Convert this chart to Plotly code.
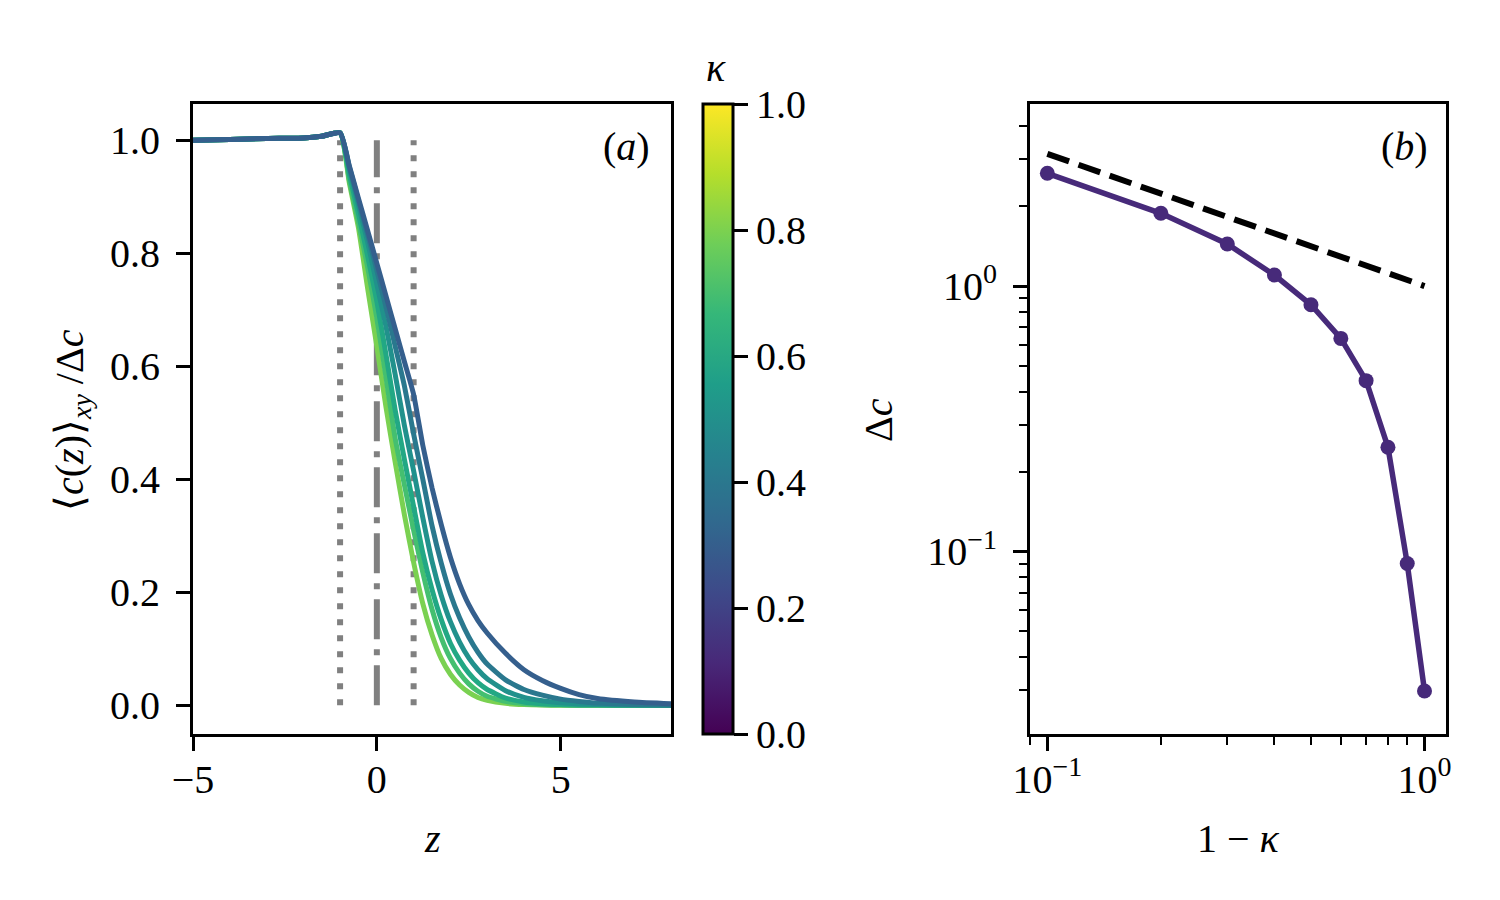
import plotly.graph_objects as go

# ---- panel (a): normalised concentration profiles ----
z = [-5, -4, -3, -2, -1.5, -1, -0.75, -0.5, -0.25, 0, 0.25, 0.5, 0.75, 1,
     1.25, 1.5, 1.75, 2, 2.25, 2.5, 2.75, 3, 3.5, 4, 4.5, 5, 5.5, 6, 7, 8]

plateau = [1.000, 1.001, 1.003, 1.004, 1.007, 1.013]

kappas = [0.3, 0.4, 0.5, 0.6, 0.7, 0.8]

c_k03 = plateau + [0.955, 0.897, 0.84, 0.782, 0.724, 0.666, 0.608, 0.55,
                   0.46, 0.385, 0.32, 0.262, 0.215, 0.178, 0.15, 0.128,
                   0.092, 0.063, 0.044, 0.03, 0.019, 0.012, 0.006, 0.003]
c_k04 = plateau + [0.953, 0.893, 0.833, 0.77, 0.705, 0.635, 0.565, 0.48,
                   0.40, 0.318, 0.252, 0.197, 0.155, 0.121, 0.094, 0.073,
                   0.045, 0.028, 0.018, 0.011, 0.007, 0.004, 0.0015, 0.0005]
c_k05 = plateau + [0.95, 0.885, 0.82, 0.745, 0.67, 0.585, 0.495, 0.415,
                   0.332, 0.255, 0.195, 0.148, 0.112, 0.084, 0.063, 0.047,
                   0.026, 0.014, 0.008, 0.0045, 0.0025, 0.0015, 0.0005, 0.0002]
c_k06 = plateau + [0.94, 0.87, 0.795, 0.715, 0.62, 0.522, 0.435, 0.352,
                   0.27, 0.205, 0.152, 0.11, 0.08, 0.057, 0.04, 0.028,
                   0.013, 0.006, 0.003, 0.0015, 0.0008, 0.0004, 0.0001, 0.0]
c_k07 = plateau + [0.93, 0.855, 0.775, 0.685, 0.58, 0.472, 0.39, 0.31,
                   0.235, 0.17, 0.12, 0.083, 0.057, 0.038, 0.025, 0.016,
                   0.007, 0.003, 0.0012, 0.0005, 0.0002, 0.0001, 0.0, 0.0]
c_k08 = plateau + [0.925, 0.845, 0.738, 0.635, 0.527, 0.43, 0.337, 0.253,
                   0.18, 0.125, 0.083, 0.055, 0.036, 0.023, 0.014, 0.009,
                   0.0035, 0.0013, 0.0005, 0.0002, 0.0001, 0.0, 0.0, 0.0]
profiles = [c_k03, c_k04, c_k05, c_k06, c_k07, c_k08]

# viridis samples for the kappa values above
viridis = {0.3: "#355f8d", 0.4: "#2a788e", 0.5: "#21918c",
           0.6: "#22a884", 0.7: "#44bf70", 0.8: "#7ad151"}

# ---- panel (b): interface jump ----
one_minus_kappa = [0.1, 0.2, 0.3, 0.4, 0.5, 0.6, 0.7, 0.8, 0.9, 1.0]
delta_c = [2.66, 1.88, 1.44, 1.10, 0.85, 0.635, 0.44, 0.247, 0.090, 0.0298]
ref_x = [0.1, 1.0]
ref_y = [3.15, 1.0]

FONT = "Liberation Serif"
W, H = 1500, 900
OFF = 8  # page body margin


def fx(px):
    return (px - OFF) / W


def fy(py):
    return 1 - (py - OFF) / H


fig = go.Figure()

# interface markers (under the curves)
for zv, dash in [(-1, "6px,10px"), (0, "40px,10px,6px,10px"), (1, "6px,10px")]:
    fig.add_trace(go.Scatter(x=[zv, zv], y=[0, 1], mode="lines",
                             line=dict(color="#808080", width=6, dash=dash),
                             showlegend=False, hoverinfo="skip",
                             xaxis="x", yaxis="y"))

for k, c in reversed(list(zip(kappas, profiles))):
    fig.add_trace(go.Scatter(x=z, y=c, mode="lines",
                             line=dict(color=viridis[k], width=5,
                                       shape="spline", smoothing=0.5),
                             name=f"kappa={k}", showlegend=False,
                             xaxis="x", yaxis="y"))

# dummy trace for the colourbar
fig.add_trace(go.Scatter(
    x=[None], y=[None], mode="markers", showlegend=False, hoverinfo="skip",
    marker=dict(color=[0], colorscale="Viridis", cmin=0, cmax=1, showscale=True,
                colorbar=dict(x=fx(703), xanchor="left", xpad=0,
                              y=fy(734), yanchor="bottom", ypad=0,
                              len=630, lenmode="pixels",
                              thickness=30, thicknessmode="pixels",
                              outlinewidth=3, outlinecolor="black",
                              ticks="outside", ticklen=14, tickwidth=3,
                              tickcolor="black",
                              tickvals=[0, 0.2, 0.4, 0.6, 0.8, 1.0],
                              tickformat=".1f",
                              tickfont=dict(family=FONT, size=40, color="black"))),
    xaxis="x", yaxis="y"))

fig.add_trace(go.Scatter(x=ref_x, y=ref_y, mode="lines",
                         line=dict(color="black", width=6, dash="23px,10px"),
                         showlegend=False, xaxis="x2", yaxis="y2"))
fig.add_trace(go.Scatter(x=one_minus_kappa, y=delta_c, mode="lines+markers",
                         line=dict(color="#472a7a", width=5.5),
                         marker=dict(color="#472a7a", size=15),
                         showlegend=False, xaxis="x2", yaxis="y2"))

axis_common = dict(showline=True, linecolor="black", linewidth=3, mirror=True,
                   ticks="outside", ticklen=14, tickwidth=3, tickcolor="black",
                   showgrid=False, zeroline=False,
                   tickfont=dict(family=FONT, size=40, color="black"))

x_minor = [0.09, 0.2, 0.3, 0.4, 0.5, 0.6, 0.7, 0.8, 0.9]
y_minor = [0.03, 0.04, 0.05, 0.06, 0.07, 0.08, 0.09,
           0.2, 0.3, 0.4, 0.5, 0.6, 0.7, 0.8, 0.9, 2, 3, 4]
minor_common = dict(ticks="outside", ticklen=8, tickwidth=2, tickcolor="black",
                    showgrid=False, tickmode="array")

fig.update_layout(
    width=W, height=H, margin=dict(l=0, r=0, t=0, b=0, autoexpand=False),
    plot_bgcolor="white", paper_bgcolor="white",
    font=dict(family=FONT, size=40, color="black"),
    xaxis=dict(domain=[fx(193), fx(671)], range=[-5, 8],
               tickvals=[-5, 0, 5], anchor="y", ticklabelstandoff=-6,
               **axis_common),
    yaxis=dict(domain=[fy(734), fy(104)], range=[-0.0507, 1.064],
               tickvals=[0, 0.2, 0.4, 0.6, 0.8, 1.0], tickformat=".1f",
               anchor="x", ticklabelstandoff=8, **axis_common),
    xaxis2=dict(domain=[fx(1030), fx(1446)], type="log", range=[-1.046, 0.057],
                tickvals=[0.1, 1], ticktext=["10<sup>−1</sup>", "10<sup>0</sup>"],
                minor=dict(tickvals=x_minor, **minor_common),
                anchor="y2", ticklabelstandoff=-6, **axis_common),
    yaxis2=dict(domain=[fy(734), fy(104)], type="log", range=[-1.688, 0.686],
                tickvals=[0.1, 1], ticktext=["10<sup>−1</sup>", "10<sup>0</sup>"],
                minor=dict(tickvals=y_minor, **minor_common),
                anchor="x2", ticklabelstandoff=8, **axis_common),
)

annots = [
    dict(x=fx(432), y=fy(838), text="<i>z</i>"),
    dict(x=fx(1238), y=fy(838), text="1 − <i>κ</i>"),
    dict(x=fx(72), y=fy(420), text="⟨<i>c</i>(<i>z</i>)⟩<sub><i>xy</i></sub> /Δ<i>c</i>",
         textangle=-90),
    dict(x=fx(878), y=fy(420), text="Δ<i>c</i>", textangle=-90),
    dict(x=fx(716), y=fy(68), text="<i>κ</i>"),
    dict(x=fx(652), y=fy(147), text="(<i>a</i>)", xanchor="right"),
    dict(x=fx(1430), y=fy(147), text="(<i>b</i>)", xanchor="right"),
]
for a in annots:
    a.setdefault("xanchor", "center")
    fig.add_annotation(xref="paper", yref="paper", yanchor="middle",
                       showarrow=False, font=dict(family=FONT, size=40, color="black"),
                       **a)

fig.write_html("out.html")
